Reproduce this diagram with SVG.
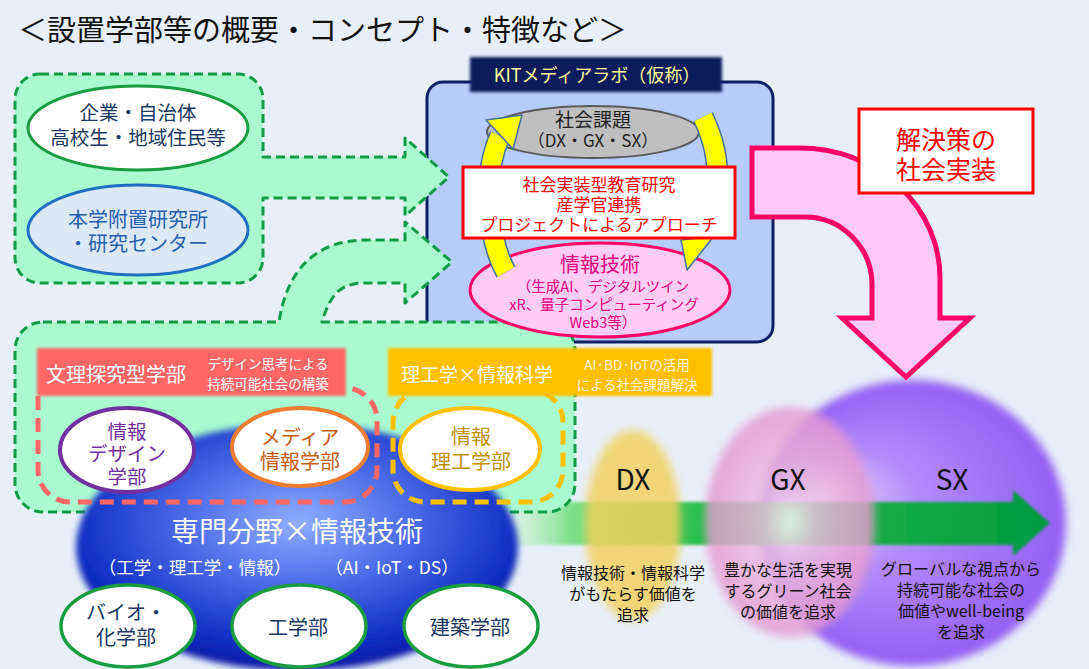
<svg xmlns="http://www.w3.org/2000/svg" width="1089" height="669" viewBox="0 0 1089 669">
<defs>
<style>
text{font-family:"Noto Sans CJK JP","Noto Sans",sans-serif;}
.c{text-anchor:middle;}
.gbox{fill:#A9FBCF;stroke:#119B47;stroke-width:3;stroke-dasharray:9 5;stroke-linejoin:round;}
.fac{fill:#fff;stroke:#1A9C40;stroke-width:3.5;}
.navy{fill:#203864;}
.desc{font-size:16px;fill:#111;text-anchor:middle;}
.big{font-size:28px;fill:#111;text-anchor:middle;}
.ybandO{fill:none;stroke:#41719C;stroke-width:22;}
.ybandI{fill:none;stroke:#FFFF00;stroke-width:19;}
.yhead{fill:#FFFF00;stroke:#41719C;stroke-width:1.5;stroke-linejoin:round;}
</style>
<filter id="blur6" x="-30%" y="-30%" width="160%" height="160%"><feGaussianBlur stdDeviation="3"/></filter>
<filter id="blur4" x="-30%" y="-30%" width="160%" height="160%"><feGaussianBlur stdDeviation="4"/></filter>
<filter id="soft" x="-10%" y="-20%" width="120%" height="140%"><feGaussianBlur stdDeviation="1.5"/></filter>
<radialGradient id="gBlue" cx="0.5" cy="0.4" r="0.58">
<stop offset="0" stop-color="#90AEFF"/>
<stop offset="0.45" stop-color="#4A6AE8"/>
<stop offset="0.85" stop-color="#1230C4"/>
<stop offset="1" stop-color="#0A1EAA"/>
</radialGradient>
<radialGradient id="gSX" cx="0.5" cy="0.5" r="0.5" fx="0.2" fy="0.42">
<stop offset="0" stop-color="#EADCFF"/>
<stop offset="0.4" stop-color="#B28CFA"/>
<stop offset="1" stop-color="#935EF3"/>
</radialGradient>
<radialGradient id="gGX" cx="0.5" cy="0.5" r="0.5">
<stop offset="0" stop-color="#FFFFFF"/>
<stop offset="0.3" stop-color="#F0C2E2"/>
<stop offset="1" stop-color="#E497CF"/>
</radialGradient>
<linearGradient id="gArrow" x1="505" y1="0" x2="1050" y2="0" gradientUnits="userSpaceOnUse">
<stop offset="0" stop-color="#C8F8D0" stop-opacity="0.3"/>
<stop offset="0.12" stop-color="#7EE08A"/>
<stop offset="0.35" stop-color="#2BBF4E"/>
<stop offset="1" stop-color="#009A3E"/>
</linearGradient>
</defs>

<rect x="0" y="0" width="1089" height="669" fill="#E8EFF8"/>

<text x="18" y="41" font-size="29" fill="#111">＜設置学部等の概要・コンセプト・特徴など＞</text>

<!-- transformation circles -->
<g id="sx-circle">
<ellipse cx="912" cy="523" rx="154" ry="143" fill="url(#gSX)" filter="url(#blur4)"/>
</g>

<g id="connectors">
<path d="M505,502 H1013 V490 L1050,523 L1013,556 V545 H505 Z" fill="url(#gArrow)" filter="url(#soft)"/>
</g>

<g id="dx-ellipse">
<ellipse cx="633" cy="525" rx="48" ry="95" fill="#F3D05C" opacity="0.82" filter="url(#blur4)"/>
</g>
<g id="gx-ellipse">
<ellipse cx="790" cy="522" rx="85" ry="115" fill="url(#gGX)" opacity="0.82" filter="url(#blur4)"/>
</g>

<g id="dx-text">
<text x="633" y="490" class="big">DX</text>
<text class="desc"><tspan x="633" y="579">情報技術・情報科学</tspan><tspan x="633" y="600">がもたらす価値を</tspan><tspan x="633" y="621">追求</tspan></text>
</g>
<g id="gx-text">
<text x="788" y="490" class="big">GX</text>
<text class="desc"><tspan x="788" y="576">豊かな生活を実現</tspan><tspan x="788" y="597">するグリーン社会</tspan><tspan x="788" y="618">の価値を追求</tspan></text>
</g>
<g id="sx-text">
<text x="952" y="490" class="big">SX</text>
<text class="desc"><tspan x="961" y="575">グローバルな視点から</tspan><tspan x="961" y="596">持続可能な社会の</tspan><tspan x="961" y="617">価値やwell-being</tspan><tspan x="961" y="638">を追求</tspan></text>
</g>

<!-- KIT media lab background -->
<g id="kit-box">
<rect x="427" y="82" width="346" height="260" rx="16" fill="#B6CCF9" stroke="#0B2162" stroke-width="3"/>
<rect x="470" y="57" width="252" height="35" fill="#0A1E5A" filter="url(#soft)"/>
<text x="597" y="82" class="c" font-size="18" fill="#FFFF99">KITメディアラボ（仮称）</text>
</g>

<!-- top-left stakeholder box with arrow -->
<g id="stakeholders">
<path class="gbox" d="M40,74 H238 A25,25 0 0 1 263,99 V157 H405 V138 L449,177 L405,216 V198 H263 V258 A25,25 0 0 1 238,283 H40 A25,25 0 0 1 15,258 V99 A25,25 0 0 1 40,74 Z"/>
<g id="node-industry">
<ellipse cx="138" cy="128" rx="110" ry="42" fill="#fff" stroke="#1A9C40" stroke-width="3"/>
<text class="c navy" font-size="19.5"><tspan x="138" y="120">企業・自治体</tspan><tspan x="138" y="145">高校生・地域住民等</tspan></text>
</g>
<g id="node-institutes">
<ellipse cx="138" cy="230" rx="110" ry="45" fill="#DDE8F6" stroke="#1F6FC0" stroke-width="3"/>
<text class="c" font-size="20" fill="#2360AE"><tspan x="138" y="227">本学附置研究所</tspan><tspan x="138" y="251">・研究センター</tspan></text>
</g>
</g>

<!-- lower faculties box with curved arrow -->
<g id="faculties-box">
<path class="gbox" d="M43,322 H279 C287,270 315,240 367,240 H405 V222 L452,262 L405,303 V283 H365 C340,283 330,295 322,322 H547 A28,28 0 0 1 575,350 V484 A28,28 0 0 1 547,512 H43 A28,28 0 0 1 15,484 V350 A28,28 0 0 1 43,322 Z"/>
</g>

<g id="node-senmon">
<ellipse cx="297" cy="547" rx="221" ry="124" fill="url(#gBlue)" filter="url(#blur6)"/>
<text x="297" y="542" class="c" font-size="28" fill="#fff">専門分野×情報技術</text>
<text x="195" y="574" class="c" font-size="17.5" fill="#fff">（工学・理工学・情報）</text>
<text x="392" y="574" class="c" font-size="17.5" fill="#fff">（AI・IoT・DS）</text>
</g>

<g id="label-bunri">
<rect x="37" y="348" width="309" height="48" fill="#FF6666" filter="url(#soft)"/>
<text x="46" y="382" font-size="20" fill="#fff">文理探究型学部</text>
<text class="c" font-size="13.5" fill="#fff"><tspan x="268" y="369">デザイン思考による</tspan><tspan x="268" y="389">持続可能社会の構築</tspan></text>
</g>
<g id="label-riko">
<rect x="388" y="348" width="324" height="48" fill="#FFC000" filter="url(#soft)"/>
<text x="401" y="382" font-size="19" fill="#fff">理工学×情報科学</text>
<text class="c" font-size="13.5" fill="#FFF5DC"><tspan x="637" y="370">AI·BD·IoTの活用</tspan><tspan x="637" y="390">による社会課題解決</tspan></text>
</g>

<g id="group-bunri">
<path d="M38,396 V470 A32,32 0 0 0 70,502 H345 A32,32 0 0 0 377,470 V420 A32,32 0 0 0 345,388" fill="none" stroke="#FF6666" stroke-width="5" stroke-dasharray="14 8"/>
</g>
<g id="group-riko">
<path d="M425,390 A32,32 0 0 0 393,422 V470 A32,32 0 0 0 425,502 H531 A32,32 0 0 0 563,470 V422 A32,32 0 0 0 531,390" fill="none" stroke="#FFC000" stroke-width="5" stroke-dasharray="14 8"/>
</g>

<g id="node-design">
<ellipse cx="127" cy="450" rx="67" ry="42" fill="#fff" stroke="#7030A0" stroke-width="4"/>
<text class="c" font-size="19.5" fill="#7030A0"><tspan x="127" y="439">情報</tspan><tspan x="127" y="461">デザイン</tspan><tspan x="127" y="484">学部</tspan></text>
</g>
<g id="node-media">
<ellipse cx="300" cy="447" rx="68" ry="39" fill="#fff" stroke="#ED7D31" stroke-width="4"/>
<text class="c" font-size="20" fill="#C55A11"><tspan x="300" y="445">メディア</tspan><tspan x="300" y="469">情報学部</tspan></text>
</g>
<g id="node-jouhouriko">
<ellipse cx="470" cy="449" rx="70" ry="41" fill="#fff" stroke="#FFC000" stroke-width="4"/>
<text class="c" font-size="20" fill="#BF9000"><tspan x="471" y="444">情報</tspan><tspan x="471" y="469">理工学部</tspan></text>
</g>

<g id="node-bio">
<ellipse cx="128" cy="626" rx="67" ry="41" class="fac"/>
<text class="c navy" font-size="20"><tspan x="126" y="620">バイオ・</tspan><tspan x="126" y="645">化学部</tspan></text>
</g>
<g id="node-kogaku">
<ellipse cx="299" cy="626" rx="67" ry="41" class="fac"/>
<text x="298" y="635" class="c navy" font-size="20">工学部</text>
</g>
<g id="node-kenchiku">
<ellipse cx="471" cy="626" rx="67" ry="41" class="fac"/>
<text x="470" y="635" class="c navy" font-size="20">建築学部</text>
</g>

<!-- KIT inner content -->
<g id="node-shakaikadai">
<ellipse cx="593" cy="132" rx="106" ry="26" fill="#BFBFBF" stroke="#595959" stroke-width="2"/>
<text x="593" y="127" class="c" font-size="19" fill="#222">社会課題</text>
<text x="593" y="147" class="c" font-size="17" fill="#222">（DX・GX・SX）</text>
</g>
<g id="node-jouhougijutsu">
<ellipse cx="600" cy="290" rx="130" ry="47" fill="#FFCCF6" stroke="#FF0066" stroke-width="3"/>
<text x="600" y="272" class="c" font-size="20" fill="#E6007E">情報技術</text>
<text class="c" font-size="14.5" fill="#E6007E"><tspan x="603" y="292">（生成AI、デジタルツイン</tspan><tspan x="604" y="310">xR、量子コンピューティング</tspan><tspan x="603" y="328">Web3等）</tspan></text>
</g>

<g id="cycle-arrows">
<path class="ybandO" d="M506,272 C488,240 482,175 500,136"/>
<path class="ybandI" d="M506,272 C488,240 482,175 500,136"/>
<polygon class="yhead" points="486,120 522,115 513,149"/>
<path class="ybandO" d="M703,117 C724,160 722,210 698,240"/>
<path class="ybandI" d="M703,117 C724,160 722,210 698,240"/>
<polygon class="yhead" points="681,240 714,236 687,270"/>
</g>

<g id="node-approach">
<rect x="463" y="167" width="272" height="71" fill="#fff" stroke="#FF0000" stroke-width="3"/>
<text class="c" font-size="17" fill="#FF0000"><tspan x="599" y="191">社会実装型教育研究</tspan><tspan x="599" y="211">産学官連携</tspan><tspan x="599" y="231">プロジェクトによるアプローチ</tspan></text>
</g>

<!-- implementation arrow -->
<g id="impl-arrow">
<path d="M752,148 H800 A140,130 0 0 1 940,278 V318 H970 L906,377 L842,318 H872 V285 A67,68 0 0 0 805,217 H752 Z" fill="#FFC8F8" stroke="#FF0066" stroke-width="5" stroke-linejoin="miter"/>
</g>
<g id="node-implement">
<rect x="859" y="109" width="174" height="84" fill="#fff" stroke="#FF0000" stroke-width="3"/>
<text class="c" font-size="25" fill="#FF0000"><tspan x="946" y="149">解決策の</tspan><tspan x="946" y="179">社会実装</tspan></text>
</g>
</svg>
